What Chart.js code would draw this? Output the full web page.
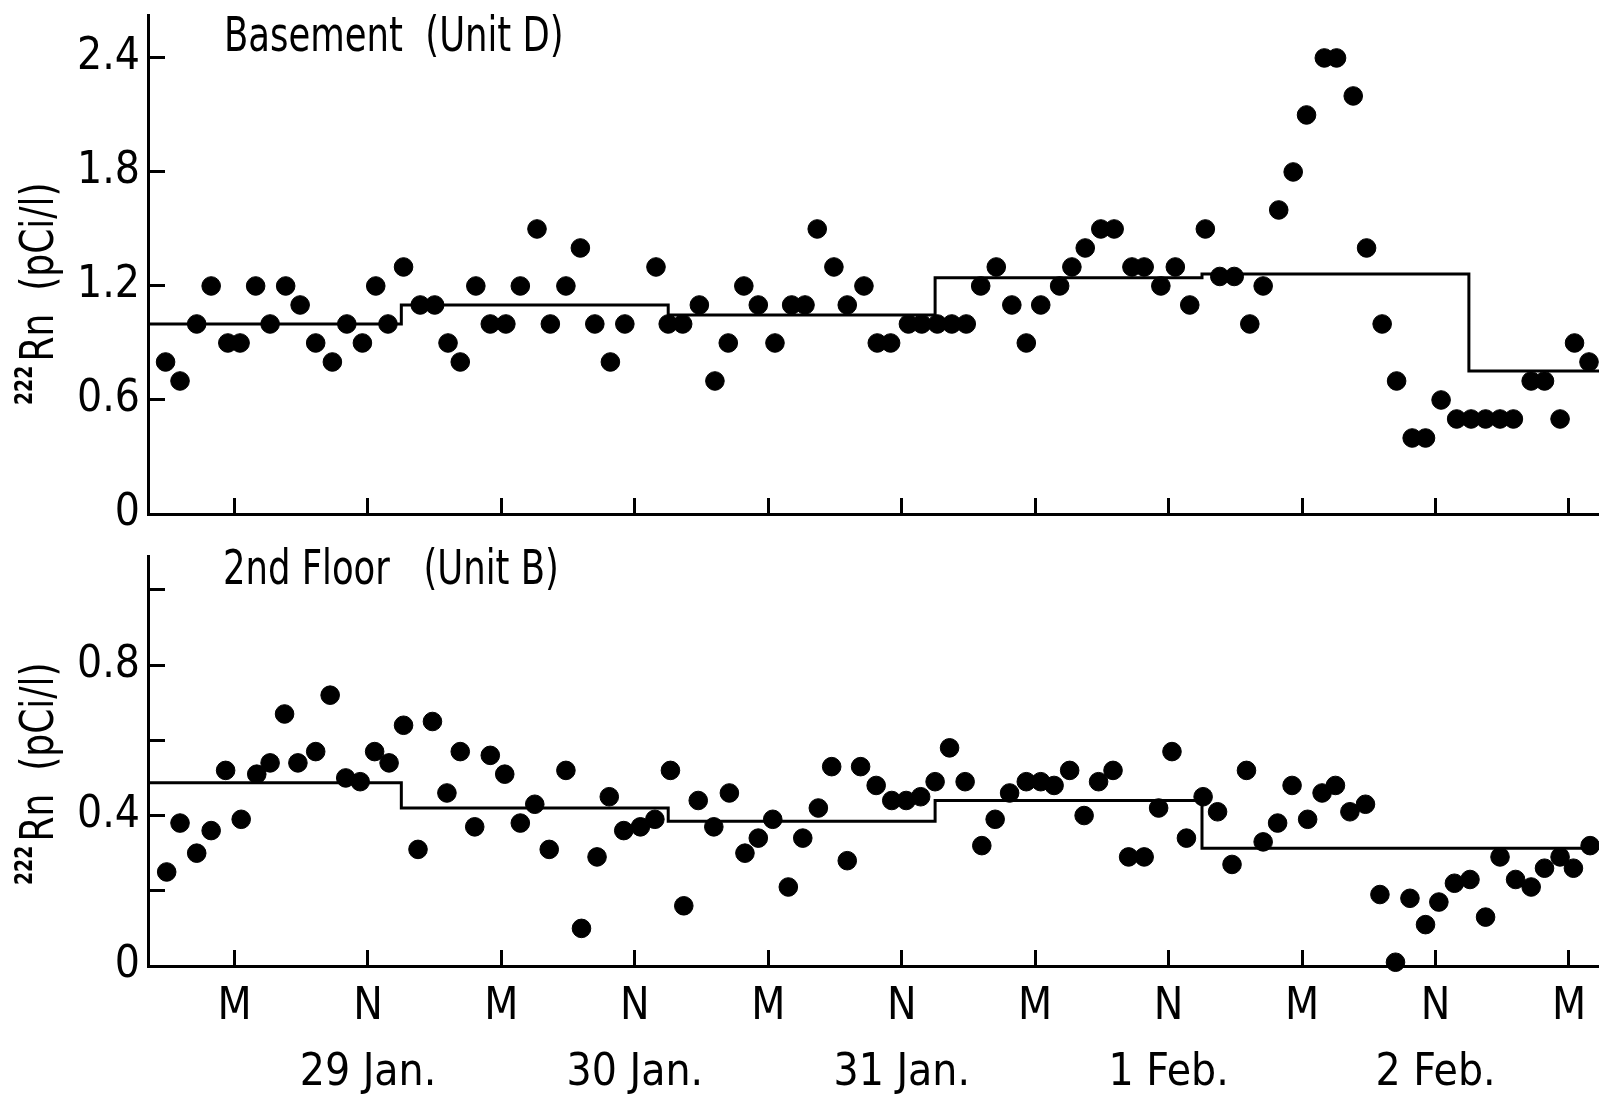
<!DOCTYPE html>
<html>
<head>
<meta charset="utf-8">
<script src="https://cdn.jsdelivr.net/npm/chart.js@4.4.1/dist/chart.umd.min.js"></script>
<style>
  html, body { margin: 0; padding: 0; background: #fff; }
  #wrap { position: relative; width: 1599px; height: 1094px; }
  .panel { position: absolute; left: 0; width: 1599px; }
  #top { top: 0; height: 540px; }
  #bottom { top: 540px; height: 554px; }
</style>
</head>
<body>
<div id="wrap">
  <div class="panel" id="top"><canvas id="basementChart"></canvas></div>
  <div class="panel" id="bottom"><canvas id="floorChart"></canvas></div>
</div>
<script>
// hours from midnight of 29 Jan.
const basementHours = [
  -6.2, -4.9, -3.4, -2.1, -0.6, 0.5, 1.9, 3.2, 4.6, 5.9,
  7.3, 8.8, 10.1, 11.5, 12.7, 13.8, 15.2, 16.7, 18.0, 19.2,
  20.3, 21.7, 23.0, 24.4, 25.7, 27.2, 28.4, 29.8, 31.1, 32.4,
  33.8, 35.1, 37.9, 39.0, 40.3, 41.8, 43.2, 44.4, 45.8, 47.1,
  48.6, 50.1, 51.3, 52.4, 53.9, 55.1, 56.6, 57.8, 59.0, 60.6,
  61.8, 63.2, 64.5, 65.8, 67.1, 68.5, 69.9, 71.2, 72.5, 74.2,
  75.3, 76.5, 77.9, 79.1, 80.7, 81.8, 83.3, 84.6, 85.9, 87.3,
  88.6, 89.9, 91.3, 92.5, 93.9, 95.2, 96.4, 98.0, 99.1, 100.6,
  101.8, 103.2, 104.5, 105.9, 107.1, 108.5, 109.9, 111.2, 112.5, 113.8,
  115.0, 116.6, 117.8, 119.2, 120.5, 121.8
];
const basementRn = [
  0.8, 0.7, 1.0, 1.2, 0.9, 0.9, 1.2, 1.0, 1.2, 1.1,
  0.9, 0.8, 1.0, 0.9, 1.2, 1.0, 1.3, 1.1, 1.1, 0.9,
  0.8, 1.2, 1.0, 1.0, 1.2, 1.5, 1.0, 1.2, 1.4, 1.0,
  0.8, 1.0, 1.3, 1.0, 1.0, 1.1, 0.7, 0.9, 1.2, 1.1,
  0.9, 1.1, 1.1, 1.5, 1.3, 1.1, 1.2, 0.9, 0.9, 1.0,
  1.0, 1.0, 1.0, 1.0, 1.2, 1.3, 1.1, 0.9, 1.1, 1.2,
  1.3, 1.4, 1.5, 1.5, 1.3, 1.3, 1.2, 1.3, 1.1, 1.5,
  1.25, 1.25, 1.0, 1.2, 1.6, 1.8, 2.1, 2.4, 2.4, 2.2,
  1.4, 1.0, 0.7, 0.4, 0.4, 0.6, 0.5, 0.5, 0.5, 0.5,
  0.5, 0.7, 0.7, 0.5, 0.9, 0.8
];
// daily means (3 PM to 3 PM)
const basementMeanFrom = [-7.78, 15, 39, 63, 87, 111, 122.7];
const basementMean = [1.0, 1.1, 1.047, 1.243, 1.263, 0.752, 0.752];

const floorHours = [
  -6.1, -4.9, -3.4, -2.1, -0.8, 0.6, 2.0, 3.2, 4.5, 5.7,
  7.3, 8.6, 10.0, 11.3, 12.6, 13.9, 15.2, 16.5, 17.8, 19.1,
  20.3, 21.6, 23.0, 24.3, 25.7, 27.0, 28.3, 29.8, 31.2, 32.6,
  33.7, 35.0, 36.5, 37.8, 39.2, 40.4, 41.7, 43.1, 44.5, 45.9,
  47.1, 48.4, 49.8, 51.1, 52.5, 53.7, 55.1, 56.3, 57.7, 59.1,
  60.4, 61.7, 63.0, 64.3, 65.7, 67.2, 68.4, 69.7, 71.2, 72.5,
  73.7, 75.1, 76.4, 77.7, 79.0, 80.4, 81.8, 83.1, 84.3, 85.6,
  87.1, 88.4, 89.7, 91.0, 92.5, 93.8, 95.1, 96.5, 97.8, 99.0,
  100.3, 101.7, 103.0, 104.4, 105.7, 107.1, 108.3, 109.7, 111.1, 112.5,
  113.8, 115.2, 116.6, 117.8, 119.2, 120.4, 121.9
];
const floorRn = [
  0.25, 0.38, 0.30, 0.36, 0.52, 0.39, 0.51, 0.54, 0.67, 0.54,
  0.57, 0.72, 0.50, 0.49, 0.57, 0.54, 0.64, 0.31, 0.65, 0.46,
  0.57, 0.37, 0.56, 0.51, 0.38, 0.43, 0.31, 0.52, 0.10, 0.29,
  0.45, 0.36, 0.37, 0.39, 0.52, 0.16, 0.44, 0.37, 0.46, 0.30,
  0.34, 0.39, 0.21, 0.34, 0.42, 0.53, 0.28, 0.53, 0.48, 0.44,
  0.44, 0.45, 0.49, 0.58, 0.49, 0.32, 0.39, 0.46, 0.49, 0.49,
  0.48, 0.52, 0.40, 0.49, 0.52, 0.29, 0.29, 0.42, 0.57, 0.34,
  0.45, 0.41, 0.27, 0.52, 0.33, 0.38, 0.48, 0.39, 0.46, 0.48,
  0.41, 0.43, 0.19, 0.01, 0.18, 0.11, 0.17, 0.22, 0.23, 0.13,
  0.29, 0.23, 0.21, 0.26, 0.29, 0.26, 0.32
];
const floorMeanFrom = [-7.78, 15, 39, 63, 87, 122.7];
const floorMean = [0.487, 0.42, 0.385, 0.44, 0.313, 0.313];

// axes
const timeTicks = [0, 12, 24, 36, 48, 60, 72, 84, 96, 108, 120];
const timeLabels = ['M', 'N', 'M', 'N', 'M', 'N', 'M', 'N', 'M', 'N', 'M'];
const dayNoons = [12, 36, 60, 84, 108];
const dayLabels = ['29 Jan.', '30 Jan.', '31 Jan.', '1 Feb.', '2 Feb.'];
const basementTicks = [0, 0.6, 1.2, 1.8, 2.4];
const basementTickLabels = ['0', '0.6', '1.2', '1.8', '2.4'];
const floorTicks = [0, 0.2, 0.4, 0.6, 0.8, 1.0];
const floorTickLabels = ['0', '', '0.4', '', '0.8', ''];

// pick a narrow face if the machine has one
function pickFont(list) {
  const c = document.createElement('canvas').getContext('2d');
  const probe = 'Basement (Unit D) 0.123456789';
  c.font = '40px monospace';
  const base = c.measureText(probe).width;
  for (const f of list) {
    c.font = '40px "' + f + '", monospace';
    if (c.measureText(probe).width !== base) return '"' + f + '"';
  }
  return 'sans-serif';
}
const FONT = pickFont(['Liberation Sans Narrow', 'Arial Narrow', 'DejaVu Sans Condensed', 'Liberation Sans']);
const FS = 44;

Chart.defaults.font.family = FONT;
Chart.defaults.color = '#000';

// panel label and the rotated y title, drawn where the original has them
const panelText = {
  id: 'panelText',
  afterDraw(chart, args, opts) {
    const ctx = chart.ctx;
    ctx.save();
    ctx.fillStyle = '#000';
    ctx.textBaseline = 'alphabetic';
    ctx.textAlign = 'left';
    ctx.font = '48px ' + FONT;
    ctx.save();
    ctx.translate(opts.labelX, opts.labelY);
    ctx.scale(0.82, 1);  // the original lettering is narrower
    ctx.fillText(opts.label, 0, 0);
    ctx.restore();

    ctx.translate(opts.titleX, opts.titleY);
    ctx.rotate(-Math.PI / 2);
    ctx.scale(0.87, 1);
    ctx.font = 'bold 24px ' + FONT;
    ctx.fillText('222', 0, -21);
    const w = ctx.measureText('222').width;
    ctx.font = '46px ' + FONT;
    ctx.fillText('Rn  (pCi/l)', w + 5, 0);
    ctx.restore();
  }
};

function makeChart(id, o) {
  return new Chart(document.getElementById(id), {
    type: 'scatter',
    data: {
      datasets: [
        {
          data: o.hours.map((h, i) => ({ x: h, y: o.values[i] })),
          backgroundColor: '#000',
          borderColor: '#000',
          pointRadius: 9.3,
          pointHoverRadius: 9.3,
          clip: false
        },
        {
          type: 'line',
          data: o.meanFrom.map((h, i) => ({ x: h, y: o.mean[i] })),
          stepped: true,
          borderColor: '#000',
          borderWidth: 3,
          pointRadius: 0,
          fill: false
        }
      ]
    },
    options: {
      responsive: true,
      maintainAspectRatio: false,
      animation: false,
      layout: { autoPadding: false, padding: { left: 0, right: 0, top: o.padTop, bottom: 0 } },
      plugins: {
        legend: { display: false },
        tooltip: { enabled: false },
        panelText: o.text
      },
      scales: {
        x: {
          type: 'linear',
          min: -7.78,
          max: 122.7,
          border: { display: true, color: '#000', width: 3 },
          grid: { drawOnChartArea: false, drawTicks: true, tickLength: -16, tickWidth: 3, tickColor: '#000' },
          ticks: {
            display: o.xLabels,
            padding: 25,
            maxRotation: 0,
            autoSkip: false,
            font: { size: FS, lineHeight: 1.5 },
            callback: (v, i) => {
              const d = dayNoons.indexOf(v);
              return d >= 0 ? [timeLabels[i], dayLabels[d]] : timeLabels[i];
            }
          },
          afterBuildTicks: s => { s.ticks = timeTicks.map(v => ({ value: v })); },
          afterFit: s => {
            s.height = o.xHeight;
            s.paddingLeft = 0;
            s.paddingRight = 0;
          }
        },
        y: {
          min: 0,
          max: o.yMax,
          border: { display: true, color: '#000', width: 3 },
          grid: { drawOnChartArea: false, drawTicks: true, tickLength: -17, tickWidth: 3, tickColor: '#000' },
          ticks: {
            padding: 25,
            font: { size: FS, lineHeight: 0.5 },
            callback: (v, i) => o.yLabels[i]
          },
          afterBuildTicks: s => { s.ticks = o.yTicks.map(v => ({ value: v })); },
          afterFit: s => {
            s.width = 148;
            s.paddingTop = 0;
            s.paddingBottom = 0;
          }
        }
      }
    },
    plugins: [panelText]
  });
}

const basementChart = makeChart('basementChart', {
  hours: basementHours, values: basementRn,
  meanFrom: basementMeanFrom, mean: basementMean,
  yMax: 2.626, yTicks: basementTicks, yLabels: basementTickLabels,
  padTop: 15, xHeight: 26, xLabels: false,
  text: { label: 'Basement  (Unit D)', labelX: 224, labelY: 51, titleX: 53, titleY: 405 }
});

const floorChart = makeChart('floorChart', {
  hours: floorHours, values: floorRn,
  meanFrom: floorMeanFrom, mean: floorMean,
  yMax: 1.09, yTicks: floorTicks, yLabels: floorTickLabels,
  padTop: 16, xHeight: 128, xLabels: true,
  text: { label: '2nd Floor   (Unit B)', labelX: 223, labelY: 44, titleX: 53, titleY: 345 }
});
</script>
</body>
</html>
